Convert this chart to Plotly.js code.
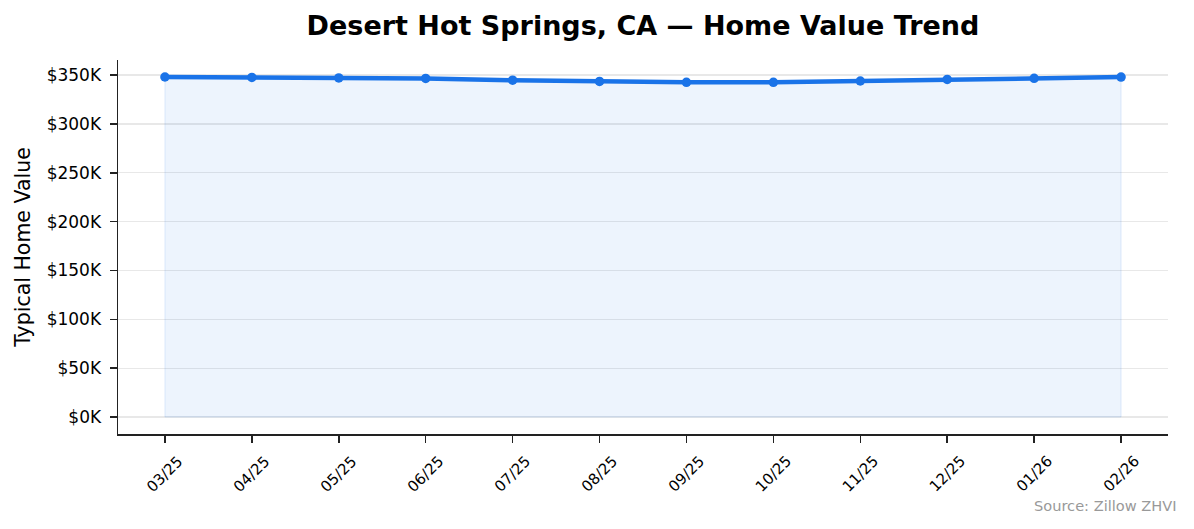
<!DOCTYPE html>
<html>
<head>
<meta charset="utf-8">
<script src="https://cdn.plot.ly/plotly-3.0.1.min.js"></script>
<style>
  html, body { margin: 0; padding: 0; background: #fff; }
  #chart { width: 1194px; height: 529px; }
</style>
</head>
<body>
<div id="chart"></div>
<script>
// Monthly typical home values (ZHVI)
var months = ['03/25', '04/25', '05/25', '06/25', '07/25', '08/25',
              '09/25', '10/25', '11/25', '12/25', '01/26', '02/26'];
var homeValues = [348000, 347600, 347100, 346500, 344700, 343500,
                  342600, 342500, 343900, 345500, 346700, 347900];
var yTickVals = [0, 50000, 100000, 150000, 200000, 250000, 300000, 350000];
var yTickText = ['$0K', '$50K', '$100K', '$150K', '$200K', '$250K', '$300K', '$350K'];

var xIdx = months.map(function(_, i) { return i; });

var trace = {
    x: xIdx,
    y: homeValues,
    mode: 'lines+markers',
    fill: 'tozeroy',
    fillcolor: 'rgba(26,115,232,0.08)',
    line: { color: '#1a73e8', width: 4.5 },
    marker: { color: '#1a73e8', size: 9.5 },
    hoverinfo: 'skip'
};

// thin edge line around the filled area, like the reference
var edge = {
    x: [0, 0, 11, 11],
    y: [homeValues[0], 0, 0, homeValues[11]],
    mode: 'lines',
    line: { color: 'rgba(26,115,232,0.12)', width: 1 },
    hoverinfo: 'skip'
};

// x tick labels centred under their ticks, rotated 45 degrees (matplotlib style)
var xLabels = months.map(function(m, i) {
    return {
        text: m,
        xref: 'x', yref: 'paper',
        x: i, y: -0.042,
        xanchor: 'center', yanchor: 'top',
        textangle: -45,
        showarrow: false,
        font: { size: 15, color: '#000' }
    };
});

var layout = {
    width: 1194,
    height: 529,
    margin: { l: 118, r: 26, t: 60, b: 95 },
    paper_bgcolor: '#ffffff',
    plot_bgcolor: '#ffffff',
    font: { family: 'DejaVu Sans, sans-serif', color: '#000' },
    showlegend: false,
    title: {
        text: '<b>Desert Hot Springs, CA — Home Value Trend</b>',
        font: { size: 27, color: '#000' },
        xref: 'paper', x: 0.5, xanchor: 'center',
        y: 0.951, yanchor: 'middle'
    },
    xaxis: {
        range: [-0.54, 11.54],
        tickvals: xIdx,
        showticklabels: false,
        ticks: 'outside', ticklen: 7, tickcolor: '#222', tickwidth: 1.5,
        showgrid: false,
        zeroline: false,
        showline: true, linecolor: '#222', linewidth: 1.5
    },
    yaxis: {
        range: [-17400, 365400],
        tickvals: yTickVals,
        ticktext: yTickText,
        tickfont: { size: 17 },
        ticks: 'outside', ticklen: 7, tickcolor: '#222', tickwidth: 1.5,
        ticklabelstandoff: 5,
        showgrid: true, gridcolor: 'rgba(0,0,0,0.09)', gridwidth: 1.2,
        zeroline: false,
        showline: true, linecolor: '#222', linewidth: 1.5,
        title: { text: 'Typical Home Value', font: { size: 20.5 }, standoff: 10 }
    },
    annotations: xLabels.concat([{
        text: 'Source: Zillow ZHVI',
        xref: 'paper', yref: 'paper',
        x: 1.0105, y: -0.1925,
        xanchor: 'right', yanchor: 'middle',
        showarrow: false,
        font: { size: 14.6, color: '#999' }
    }])
};

Plotly.newPlot('chart', [trace, edge], layout, { displayModeBar: false, staticPlot: true });
</script>
</body>
</html>
